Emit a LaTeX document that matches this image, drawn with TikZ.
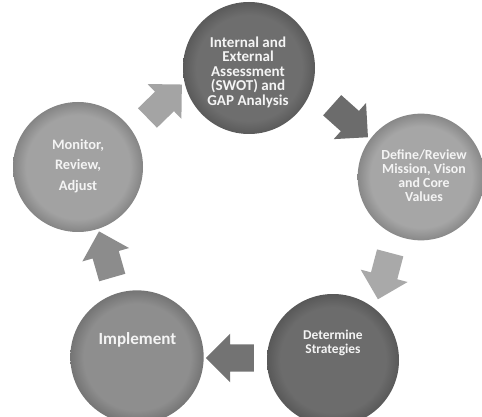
\documentclass[tikz,border=0pt]{standalone}
\usepackage{fontspec}
\setmainfont{Carlito}
\usetikzlibrary{shapes.arrows}
\definecolor{cTop}{HTML}{6E6E6E}
\definecolor{cMon}{HTML}{A2A2A2}
\definecolor{cDef}{HTML}{A6A6A6}
\definecolor{cImp}{HTML}{8E8E8E}
\definecolor{cDet}{HTML}{6C6C6C}
\definecolor{aOne}{HTML}{6C6C6C}
\definecolor{aTwo}{HTML}{A9A9A9}
\definecolor{aThree}{HTML}{737373}
\definecolor{aFour}{HTML}{8C8C8C}
\definecolor{aFive}{HTML}{A4A4A4}
\definecolor{txt}{HTML}{F4F4F4}
\newcommand{\mkrim}[2]{\pgfdeclareradialshading{#1}{\pgfpointorigin}{color(0bp)=(#2); color(20bp)=(#2); color(25bp)=(#2!82!black); color(50bp)=(#2!82!black)}}
\mkrim{rimTop}{cTop}
\mkrim{rimMon}{cMon}
\mkrim{rimDef}{cDef}
\mkrim{rimImp}{cImp}
\mkrim{rimDet}{cDet}
\begin{document}
\begin{tikzpicture}[x=0.75pt,y=-0.75pt,
  stage/.style={circle, draw=none, inner sep=0pt},
  label/.style={text=txt, font=\bfseries, align=center, inner sep=0pt},
  barrow/.style={single arrow, draw=none, inner xsep=0pt, inner ysep=10pt,
    minimum height=36pt, single arrow head extend=8pt, minimum width=1pt}]
\useasboundingbox (0,0) rectangle (482,417);
\clip (0,0) rectangle (482,417);
% stages
\node[stage, minimum size=99pt, shading=rimTop] (top) at (249,68) {};
\node[stage, minimum size=97.5pt, shading=rimMon] (mon) at (78,167) {};
\node[stage, minimum size=95pt, shading=rimDef] (def) at (421,177) {};
\node[stage, minimum size=100pt, shading=rimImp] (imp) at (137,357) {};
\node[stage, minimum size=99pt, shading=rimDet] (det) at (333,360) {};
% labels
\node[label, font=\bfseries\fontsize{11.3}{10.9}\selectfont] (ttop) at (248,72) {Internal and\\External\\Assessment\\(SWOT) and\\GAP Analysis};
\node[label, font=\bfseries\fontsize{10.8}{15.6}\selectfont] (tmon) at (78,166) {Monitor,\\Review,\\Adjust};
\node[label, font=\bfseries\fontsize{10.4}{10.5}\selectfont] (tdef) at (424,176) {Define/Review\\Mission, Vison\\and Core\\Values};
\node[label, font=\bfseries\fontsize{12.8}{14}\selectfont] (timp) at (137.5,340) {Implement};
\node[label, font=\bfseries\fontsize{10.1}{10}\selectfont] (tdet) at (333,343) {Determine\\Strategies};
% block arrows
\node[barrow, fill=aOne, rotate=-41.8] (a1) at (345,116.7) {};
\node[barrow, fill=aTwo, rotate=-104.8] (a2) at (385.8,269.5) {};
\node[barrow, fill=aThree, rotate=180] (a3) at (236.7,358) {};
\node[barrow, fill=aFour, rotate=106] (a4) at (107.5,261) {};
\node[barrow, fill=aFive, rotate=44.2] (a5) at (159.8,106) {};
\end{tikzpicture}
\end{document}
